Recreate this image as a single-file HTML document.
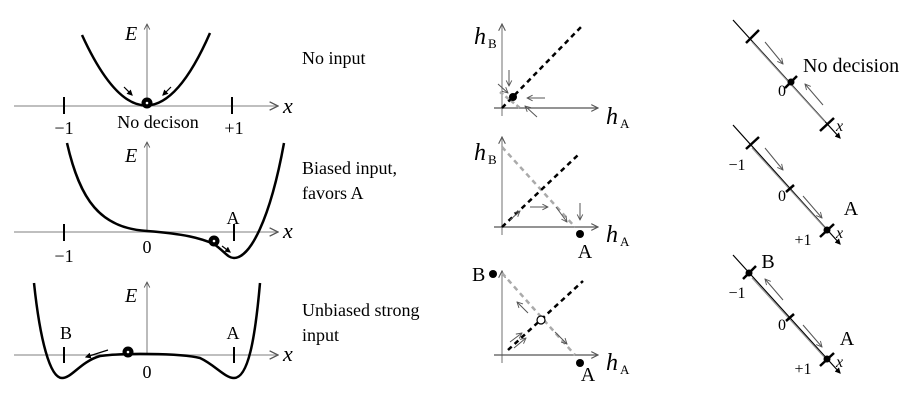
<!DOCTYPE html>
<html><head><meta charset="utf-8"><style>
html,body{margin:0;padding:0;background:#fff}
svg{display:block;font-family:"Liberation Serif",serif}
</style></head><body>
<svg width="919" height="405" viewBox="0 0 919 405">
<defs>
<marker id="ah" viewBox="0 0 10 10" refX="9" refY="5" markerWidth="7" markerHeight="7" orient="auto-start-reverse"><path d="M1,1 L9,5 L1,9" fill="none" stroke="#555" stroke-width="1.3"/></marker>
<marker id="ab" viewBox="0 0 10 10" refX="8" refY="5" markerWidth="5" markerHeight="5" orient="auto"><path d="M0,0 L10,5 L0,10 z" fill="#000"/></marker>
</defs>

<!-- Column 1: energy landscapes -->
<g>
<line x1="14" y1="106" x2="278" y2="106" stroke="#aaa" stroke-width="1.5" marker-end="url(#ah)"/>
<line x1="147" y1="106" x2="147" y2="24" stroke="#777" stroke-width="1" marker-end="url(#ah)"/>
<text x="125" y="40" font-size="20" font-style="italic">E</text>
<text x="283" y="113" font-size="22" font-style="italic">x</text>
<line x1="64" y1="97" x2="64" y2="114" stroke="#000" stroke-width="2"/>
<line x1="232" y1="97" x2="232" y2="114" stroke="#000" stroke-width="2"/>
<text x="64" y="134" font-size="18" text-anchor="middle">−1</text>
<text x="234" y="134" font-size="18" text-anchor="middle">+1</text>
<text x="158" y="128" font-size="18" text-anchor="middle">No decison</text>
<path d="M82,35 Q147,177 210,33" fill="none" stroke="#000" stroke-width="2.5"/>
<line x1="124" y1="87" x2="132" y2="95" stroke="#000" stroke-width="1.2" marker-end="url(#ab)"/>
<line x1="171" y1="87" x2="163" y2="95" stroke="#000" stroke-width="1.2" marker-end="url(#ab)"/>
<circle cx="147" cy="103" r="5.5" fill="#000"/><circle cx="147" cy="103" r="1.3" fill="#fff"/>
</g>

<g>
<line x1="14" y1="232" x2="278" y2="232" stroke="#aaa" stroke-width="1.5" marker-end="url(#ah)"/>
<line x1="147" y1="232" x2="147" y2="142" stroke="#777" stroke-width="1" marker-end="url(#ah)"/>
<text x="125" y="162" font-size="20" font-style="italic">E</text>
<text x="283" y="238" font-size="22" font-style="italic">x</text>
<line x1="64" y1="224" x2="64" y2="241" stroke="#000" stroke-width="2"/>
<line x1="234" y1="224" x2="234" y2="241" stroke="#000" stroke-width="2"/>
<text x="64" y="262" font-size="18" text-anchor="middle">−1</text>
<text x="147" y="253" font-size="18" text-anchor="middle">0</text>
<text x="233" y="224" font-size="18" text-anchor="middle">A</text>
<path d="M67,143 C80,200 100,228 147,231 C185,234 200,238 214,244 C225,252 228,258 234,258 C250,258 270,220 284,143" fill="none" stroke="#000" stroke-width="2.5"/>
<line x1="222" y1="246" x2="230" y2="252" stroke="#000" stroke-width="1.2" marker-end="url(#ab)"/>
<circle cx="214" cy="241" r="5.5" fill="#000"/><circle cx="214" cy="241" r="1.3" fill="#fff"/>
</g>

<g>
<line x1="14" y1="355" x2="278" y2="355" stroke="#aaa" stroke-width="1.5" marker-end="url(#ah)"/>
<line x1="147" y1="355" x2="147" y2="282" stroke="#777" stroke-width="1" marker-end="url(#ah)"/>
<text x="125" y="302" font-size="20" font-style="italic">E</text>
<text x="283" y="361" font-size="22" font-style="italic">x</text>
<line x1="64" y1="347" x2="64" y2="363" stroke="#000" stroke-width="2"/>
<line x1="234" y1="347" x2="234" y2="363" stroke="#000" stroke-width="2"/>
<text x="66" y="339" font-size="18" text-anchor="middle">B</text>
<text x="233" y="339" font-size="18" text-anchor="middle">A</text>
<text x="147" y="378" font-size="18" text-anchor="middle">0</text>
<path d="M34,283 C40,340 50,378 62,378 C72,378 80,362 100,356 C120,353 180,353 200,358 C215,365 225,378 234,378 C248,378 255,340 260,283" fill="none" stroke="#000" stroke-width="2.5"/>
<line x1="108" y1="350" x2="86" y2="357" stroke="#000" stroke-width="1.2" marker-end="url(#ab)"/>
<circle cx="128" cy="352" r="5.5" fill="#000"/><circle cx="128" cy="352" r="1.3" fill="#fff"/>
</g>

<g font-size="18">
<text x="302" y="64">No input</text>
<text x="302" y="174">Biased input,</text>
<text x="302" y="199">favors A</text>
<text x="302" y="316">Unbiased strong</text>
<text x="302" y="341">input</text>
</g>

<!-- Column 2: h-plane -->
<g>
<line x1="502" y1="116" x2="502" y2="24" stroke="#888" stroke-width="1.2" marker-end="url(#ah)"/>
<line x1="494" y1="108" x2="598" y2="108" stroke="#555" stroke-width="1.2" marker-end="url(#ah)"/>
<text x="474" y="44" font-size="24" font-style="italic">h</text><text x="488" y="48" font-size="13">B</text>
<text x="606" y="124" font-size="24" font-style="italic">h</text><text x="620" y="128" font-size="13">A</text>
<line x1="502" y1="108" x2="582" y2="26" stroke="#000" stroke-width="2.5" stroke-dasharray="5,4"/>
<line x1="500" y1="92" x2="520" y2="108" stroke="#aaa" stroke-width="2.5" stroke-dasharray="4,3"/>
<line x1="509" y1="70" x2="509" y2="86" stroke="#555" stroke-width="1" marker-end="url(#ah)"/>
<line x1="545" y1="98" x2="527" y2="98" stroke="#555" stroke-width="1" marker-end="url(#ah)"/>
<line x1="537" y1="117" x2="525" y2="106" stroke="#555" stroke-width="1" marker-end="url(#ah)"/>
<line x1="498" y1="84" x2="508" y2="93" stroke="#555" stroke-width="1" marker-end="url(#ah)"/>
<circle cx="513" cy="97" r="4" fill="#000"/>
</g>

<g>
<line x1="502" y1="235" x2="502" y2="137" stroke="#888" stroke-width="1.2" marker-end="url(#ah)"/>
<line x1="494" y1="227" x2="598" y2="227" stroke="#555" stroke-width="1.2" marker-end="url(#ah)"/>
<text x="474" y="160" font-size="24" font-style="italic">h</text><text x="488" y="164" font-size="13">B</text>
<text x="606" y="242" font-size="24" font-style="italic">h</text><text x="620" y="246" font-size="13">A</text>
<line x1="502" y1="147" x2="575" y2="227" stroke="#aaa" stroke-width="2.5" stroke-dasharray="5,4"/>
<line x1="502" y1="227" x2="578" y2="155" stroke="#000" stroke-width="2.5" stroke-dasharray="5,4"/>
<line x1="510" y1="220" x2="520" y2="211" stroke="#555" stroke-width="1" marker-end="url(#ah)"/>
<line x1="530" y1="207" x2="548" y2="207" stroke="#555" stroke-width="1" marker-end="url(#ah)"/>
<line x1="556" y1="207" x2="567" y2="222" stroke="#555" stroke-width="1" marker-end="url(#ah)"/>
<line x1="580" y1="203" x2="580" y2="220" stroke="#555" stroke-width="1" marker-end="url(#ah)"/>
<circle cx="580" cy="234" r="4" fill="#000"/>
<text x="585" y="258" font-size="20" text-anchor="middle">A</text>
</g>

<g>
<line x1="502" y1="363" x2="502" y2="271" stroke="#888" stroke-width="1.2" marker-end="url(#ah)"/>
<line x1="494" y1="355" x2="598" y2="355" stroke="#555" stroke-width="1.2" marker-end="url(#ah)"/>
<text x="606" y="370" font-size="24" font-style="italic">h</text><text x="620" y="374" font-size="13">A</text>
<text x="472" y="281" font-size="20">B</text>
<circle cx="493" cy="274" r="4" fill="#000"/>
<line x1="502" y1="273" x2="575" y2="355" stroke="#aaa" stroke-width="2.5" stroke-dasharray="5,4"/>
<line x1="508" y1="350" x2="583" y2="281" stroke="#000" stroke-width="2.5" stroke-dasharray="5,4"/>
<line x1="528" y1="313" x2="517" y2="302" stroke="#555" stroke-width="1" marker-end="url(#ah)"/>
<line x1="555" y1="332" x2="567" y2="344" stroke="#555" stroke-width="1" marker-end="url(#ah)"/>
<line x1="510" y1="342" x2="522" y2="333" stroke="#555" stroke-width="1" marker-end="url(#ah)"/>
<line x1="514" y1="348" x2="526" y2="338" stroke="#555" stroke-width="1" marker-end="url(#ah)"/>
<circle cx="541" cy="320" r="4" fill="#fff" stroke="#000" stroke-width="1.2"/>
<circle cx="580" cy="363" r="4" fill="#000"/>
<text x="588" y="381" font-size="20" text-anchor="middle">A</text>
</g>

<!-- Column 3: 1D projections -->
<g>
<line x1="733" y1="20" x2="840" y2="138" stroke="#000" stroke-width="1.2" marker-end="url(#ab)"/>
<line x1="752" y1="42" x2="825" y2="122" stroke="#999" stroke-width="1.2"/>
<line x1="746" y1="43" x2="759" y2="30" stroke="#000" stroke-width="2.5"/>
<line x1="785" y1="88" x2="797" y2="76" stroke="#000" stroke-width="2.5"/>
<line x1="820" y1="131" x2="834" y2="118" stroke="#000" stroke-width="2.5"/>
<circle cx="791" cy="82" r="3.5" fill="#000"/>
<line x1="765" y1="42" x2="783" y2="64" stroke="#555" stroke-width="1" marker-end="url(#ah)"/>
<line x1="823" y1="105" x2="805" y2="84" stroke="#555" stroke-width="1" marker-end="url(#ah)"/>
<text x="782" y="96" font-size="16" text-anchor="middle">0</text>
<text x="836" y="131" font-size="16" font-style="italic">x</text>
<text x="803" y="72" font-size="20">No decision</text>
</g>

<g>
<line x1="733" y1="125" x2="840" y2="244" stroke="#000" stroke-width="1.2" marker-end="url(#ab)"/>
<line x1="752" y1="148" x2="825" y2="228" stroke="#999" stroke-width="1.2"/>
<line x1="746" y1="149" x2="759" y2="137" stroke="#000" stroke-width="2.5"/>
<line x1="786" y1="192" x2="794" y2="185" stroke="#000" stroke-width="2.5"/>
<line x1="820" y1="237" x2="834" y2="224" stroke="#000" stroke-width="2.5"/>
<circle cx="827" cy="230" r="3.5" fill="#000"/>
<line x1="765" y1="148" x2="783" y2="170" stroke="#555" stroke-width="1" marker-end="url(#ah)"/>
<line x1="803" y1="196" x2="822" y2="218" stroke="#555" stroke-width="1" marker-end="url(#ah)"/>
<text x="737" y="170" font-size="16" text-anchor="middle">−1</text>
<text x="782" y="201" font-size="16" text-anchor="middle">0</text>
<text x="803" y="245" font-size="16" text-anchor="middle">+1</text>
<text x="851" y="215" font-size="20" text-anchor="middle">A</text>
<text x="836" y="238" font-size="16" font-style="italic">x</text>
</g>

<g>
<line x1="733" y1="255" x2="840" y2="373" stroke="#000" stroke-width="1.2" marker-end="url(#ab)"/>
<line x1="752" y1="278" x2="825" y2="358" stroke="#999" stroke-width="1.2"/>
<line x1="743" y1="279" x2="756" y2="266" stroke="#000" stroke-width="2.5"/>
<line x1="786" y1="321" x2="794" y2="314" stroke="#000" stroke-width="2.5"/>
<line x1="820" y1="366" x2="834" y2="353" stroke="#000" stroke-width="2.5"/>
<circle cx="749" cy="273" r="3.5" fill="#000"/>
<circle cx="827" cy="359" r="3.5" fill="#000"/>
<line x1="783" y1="300" x2="765" y2="279" stroke="#555" stroke-width="1" marker-end="url(#ah)"/>
<line x1="803" y1="325" x2="822" y2="347" stroke="#555" stroke-width="1" marker-end="url(#ah)"/>
<text x="768" y="268" font-size="20" text-anchor="middle">B</text>
<text x="737" y="298" font-size="16" text-anchor="middle">−1</text>
<text x="782" y="330" font-size="16" text-anchor="middle">0</text>
<text x="803" y="374" font-size="16" text-anchor="middle">+1</text>
<text x="847" y="345" font-size="20" text-anchor="middle">A</text>
<text x="836" y="367" font-size="16" font-style="italic">x</text>
</g>
</svg>
</body></html>
